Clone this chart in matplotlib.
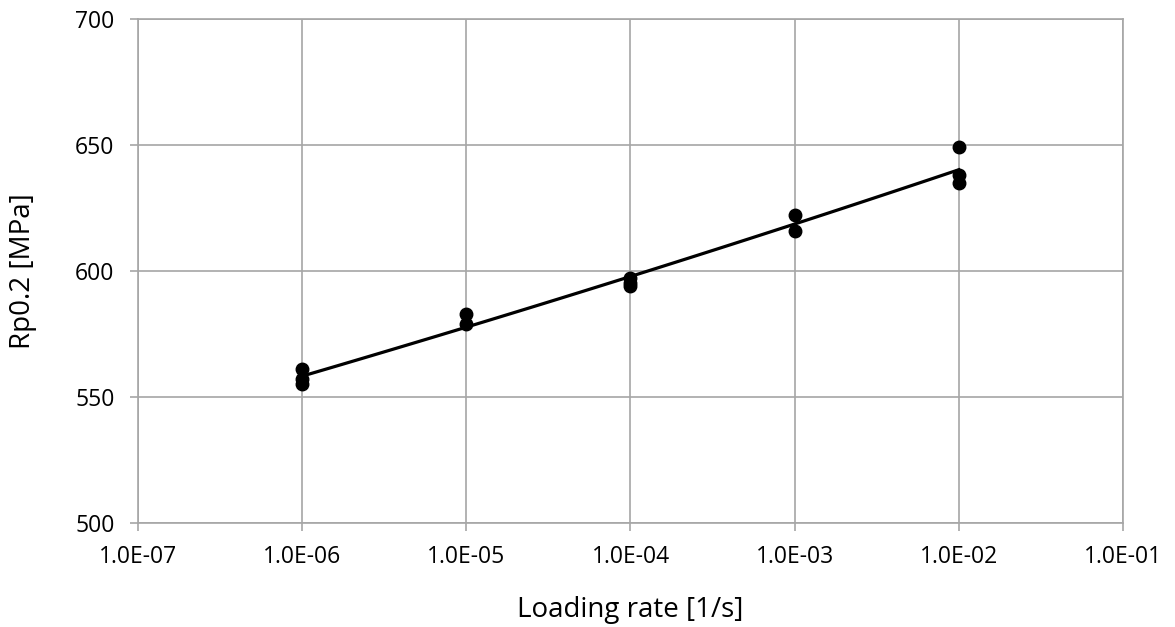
import numpy as np
import matplotlib.pyplot as plt
from matplotlib.ticker import FuncFormatter, FixedLocator, NullLocator

plt.rcParams['font.family'] = ['Open Sans', 'DejaVu Sans']

# measured yield strength per loading rate
rate = [1e-6, 1e-6, 1e-6, 1e-5, 1e-5, 1e-4, 1e-4, 1e-4, 1e-3, 1e-3, 1e-2, 1e-2, 1e-2]
rp02 = [561, 557, 555, 583, 579, 597, 595, 594, 622, 616, 649, 638, 635]

x_ticks = [1e-7, 1e-6, 1e-5, 1e-4, 1e-3, 1e-2, 1e-1]
y_ticks = [500, 550, 600, 650, 700]


def sci(v, pos):
    # Excel-style "1.0E-07"
    e = int(round(np.log10(v)))
    return f"1.0E-{abs(e):02d}" if e < 0 else f"1.0E+{e:02d}"


def main():
    W, H = 1175, 627
    fig = plt.figure(figsize=(W / 100, H / 100), dpi=100)
    ax = fig.add_axes([138 / W, 1 - 522.7 / H, 985 / W, 503.7 / H])

    # power-law trend (straight in log-log), drawn over the measured range
    b, a = np.polyfit(np.log10(rate), np.log10(rp02), 1)
    xf = np.logspace(-6, -2, 50)
    ax.plot(xf, 10 ** (a + b * np.log10(xf)), color="black", lw=2.3, zorder=3)
    ax.plot(rate, rp02, "o", color="black", ms=9, zorder=4)

    ax.set_xscale("log")
    ax.set_xlim(1e-7, 1e-1)
    ax.set_ylim(500, 700)
    ax.xaxis.set_major_locator(FixedLocator(x_ticks))
    ax.xaxis.set_minor_locator(NullLocator())
    ax.xaxis.set_major_formatter(FuncFormatter(sci))
    ax.set_yticks(y_ticks)

    ax.grid(True, color="#a6a6a6", lw=1.2)
    ax.set_axisbelow(True)
    for s in ax.spines.values():
        s.set_color("#a6a6a6")
        s.set_linewidth(1.2)
    ax.tick_params(axis="both", colors="#a6a6a6", labelcolor="black",
                   labelsize=16.5, length=6, width=1.2)
    ax.tick_params(axis="y", pad=11)
    ax.tick_params(axis="x", pad=10)

    ax.set_xlabel("Loading rate [1/s]", fontsize=20, va="center")
    ax.xaxis.set_label_coords(0.5, (522.7 - 610) / 503.7)
    ax.set_ylabel("Rp0.2 [MPa]", fontsize=20, va="center")
    ax.yaxis.set_label_coords((23 - 138) / 985, 0.5)

    fig.savefig("out.png", dpi=100, facecolor="white")


if __name__ == "__main__":
    main()
